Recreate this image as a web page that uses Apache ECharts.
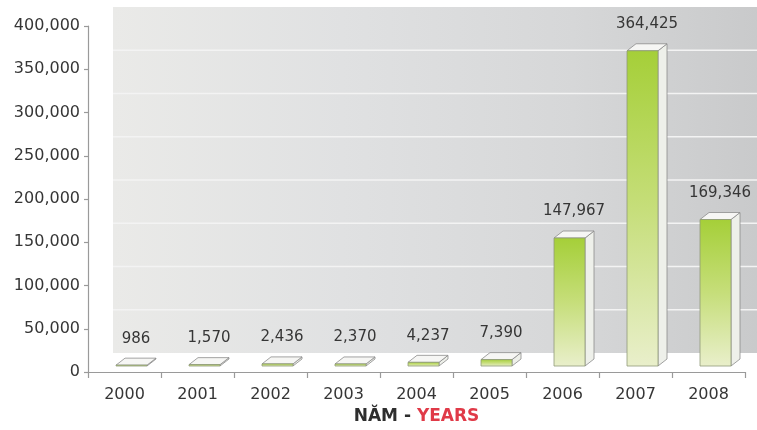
<!DOCTYPE html>
<html>
<head>
<meta charset="utf-8">
<script src="https://cdn.jsdelivr.net/npm/echarts@6/dist/echarts.min.js"></script>
<style>
  html, body { margin: 0; padding: 0; background: #ffffff; }
  #chart { width: 757px; height: 430px; }
</style>
</head>
<body>
<div id="chart"></div>
<script>
// Yearly totals
const years = ['2000', '2001', '2002', '2003', '2004', '2005', '2006', '2007', '2008'];
const totals = [986, 1570, 2436, 2370, 4237, 7390, 147967, 364425, 169346];
const gridValues = [0, 50000, 100000, 150000, 200000, 250000, 300000, 350000, 400000];

const FONT = 'DejaVu Sans';
const TEXT = '#363636';
const AXIS = '#9a9a9a';

// 3D look: back wall offset and box depth
const WALL_DX = 25, WALL_DY = -19;
const BAR_SHIFT_X = 7, BAR_SHIFT_Y = -6;
const BAR_W = 31, DEPTH_X = 9, DEPTH_Y = -7;

const fmt = v => v.toLocaleString('en-US');

function renderWall(params, api) {
  const cs = params.coordSys;
  const children = [{
    type: 'rect',
    shape: { x: cs.x + WALL_DX, y: cs.y + WALL_DY, width: cs.width, height: cs.height },
    style: {
      fill: new echarts.graphic.LinearGradient(0, 0, 1, 0, [
        { offset: 0, color: '#eaeae8' },
        { offset: 0.35, color: '#e0e1e2' },
        { offset: 0.7, color: '#d6d7d8' },
        { offset: 1, color: '#c8c9ca' }
      ])
    }
  }];
  gridValues.forEach(v => {
    if (v === 0 || v === gridValues[gridValues.length - 1]) return;
    const y = api.coord([0, v])[1] + WALL_DY;
    children.push({
      type: 'line',
      shape: { x1: cs.x + WALL_DX, y1: y, x2: cs.x + WALL_DX + cs.width, y2: y },
      style: { stroke: '#f3f3f3', lineWidth: 1.5 }
    });
  });
  return { type: 'group', children };
}

function renderBox(params, api) {
  const idx = api.value(0);
  const val = api.value(1);
  const base = api.coord([idx, 0]);
  const topPt = api.coord([idx, val]);
  const cx = base[0] + BAR_SHIFT_X;
  const bottom = base[1] + BAR_SHIFT_Y;
  const top = topPt[1] + BAR_SHIFT_Y;
  const l = cx - BAR_W / 2, r = cx + BAR_W / 2;
  const edge = { stroke: '#8c8c8c', lineWidth: 0.8 };

  return {
    type: 'group',
    children: [
      {
        type: 'polygon',
        shape: { points: [[r, bottom], [r + DEPTH_X, bottom + DEPTH_Y], [r + DEPTH_X, top + DEPTH_Y], [r, top]] },
        style: Object.assign({ fill: '#eef0ea' }, edge)
      },
      {
        type: 'polygon',
        shape: { points: [[l, top], [l + DEPTH_X, top + DEPTH_Y], [r + DEPTH_X, top + DEPTH_Y], [r, top]] },
        style: Object.assign({ fill: '#f6f6f4' }, edge)
      },
      {
        type: 'rect',
        shape: { x: l, y: top, width: BAR_W, height: bottom - top },
        style: {
          fill: new echarts.graphic.LinearGradient(0, 0, 0, 1, [
            { offset: 0, color: '#a5cf38' },
            { offset: 0.5, color: '#c6de7a' },
            { offset: 1, color: '#e9efcb' }
          ]),
          stroke: '#8f9a78',
          lineWidth: 0.8
        }
      },
      {
        type: 'text',
        x: cx + DEPTH_X / 2,
        y: top - 19,
        style: {
          text: fmt(val),
          fill: TEXT,
          font: '15px "' + FONT + '"',
          align: 'center',
          verticalAlign: 'bottom'
        }
      }
    ]
  };
}

const chart = echarts.init(document.getElementById('chart'), null, { renderer: 'canvas' });

chart.setOption({
  animation: false,
  backgroundColor: '#ffffff',
  grid: { left: 88, right: 12, top: 26, bottom: 58 },
  xAxis: {
    type: 'category',
    data: years,
    axisLine: { show: true, lineStyle: { color: AXIS, width: 1.2 } },
    axisTick: { show: true, length: 6, lineStyle: { color: AXIS, width: 1.2 } },
    axisLabel: { color: TEXT, fontSize: 16, fontFamily: FONT, margin: 15 },
    splitLine: { show: false },
    name: '{a|NĂM - }{b|YEARS}',
    nameLocation: 'middle',
    nameGap: 31,
    nameTextStyle: {
      rich: {
        a: { fontSize: 17, fontWeight: 'bold', fontFamily: FONT, color: '#2e2e2e' },
        b: { fontSize: 17, fontWeight: 'bold', fontFamily: FONT, color: '#e03a48' }
      }
    }
  },
  yAxis: {
    type: 'value',
    min: 0,
    max: 400000,
    interval: 50000,
    axisLine: { show: true, lineStyle: { color: AXIS, width: 1.2 } },
    axisTick: { show: true, length: 4, lineStyle: { color: AXIS, width: 1.2 } },
    axisLabel: { color: TEXT, fontSize: 16, fontFamily: FONT, margin: 8, formatter: v => fmt(v) },
    splitLine: { show: false }
  },
  series: [
    {
      type: 'custom',
      renderItem: renderWall,
      data: [[0, 0]],
      silent: true,
      z: 1
    },
    {
      type: 'custom',
      renderItem: renderBox,
      data: totals.map((v, i) => [i, v]),
      z: 2
    }
  ]
});
</script>
</body>
</html>
